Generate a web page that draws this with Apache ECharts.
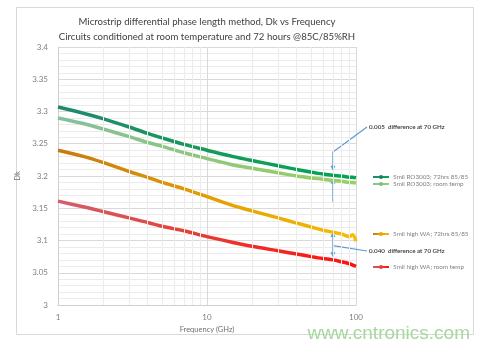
<!DOCTYPE html>
<html>
<head>
<meta charset="utf-8">
<script src="https://cdn.jsdelivr.net/npm/echarts@6/dist/echarts.min.js"></script>
<style>
  html, body { margin: 0; padding: 0; background: #fff; }
  #chart { width: 487px; height: 351px; }
</style>
</head>
<body>
<div id="chart"></div>
<script>
// frequency points (GHz) and Dk
const freqs = [1, 1.5, 2, 3, 4, 5, 7, 10, 15, 20, 30, 40, 50, 60, 70, 80, 90, 95, 100];
const ro3003Aged = [3.307, 3.297, 3.289, 3.276, 3.266, 3.259, 3.249, 3.240, 3.230, 3.224, 3.216, 3.210, 3.206, 3.203, 3.201, 3.200, 3.198, 3.198, 3.197];
const ro3003Room = [3.290, 3.281, 3.273, 3.261, 3.252, 3.246, 3.236, 3.227, 3.217, 3.212, 3.205, 3.200, 3.197, 3.195, 3.193, 3.192, 3.190, 3.190, 3.189];
const highWaAged = [3.240, 3.230, 3.221, 3.207, 3.198, 3.190, 3.180, 3.168, 3.154, 3.146, 3.135, 3.127, 3.121, 3.116, 3.113, 3.110, 3.106, 3.109, 3.099];
const highWaRoom = [3.161, 3.152, 3.145, 3.135, 3.128, 3.122, 3.115, 3.106, 3.097, 3.091, 3.084, 3.079, 3.075, 3.072, 3.070, 3.067, 3.064, 3.062, 3.060];
const seriesNames = [
    '5mil RO3003; 72hrs 85/85',
    '5mil RO3003; room temp',
    '5mil high WA; 72hrs 85/85',
    '5mil high WA; room temp'
];
const minorFreqs = [2, 3, 4, 5, 6, 7, 8, 9, 20, 30, 40, 50, 60, 70, 80, 90];

const FONT = 'Lato, "Open Sans", sans-serif';

function pairs(vals) {
    return freqs.map((f, i) => [f, vals[i]]);
}

function grad(stops) {
    return new echarts.graphic.LinearGradient(0, 0, 1, 0,
        stops.map((c, i) => ({ offset: i / (stops.length - 1), color: c })));
}

function dataSeries(name, vals, solid, stops) {
    return {
        name: name,
        type: 'line',
        data: pairs(vals),
        showSymbol: false,
        symbol: 'circle',
        symbolSize: 4,
        smooth: 0.3,
        z: 3,
        itemStyle: { color: solid },
        lineStyle: { width: 3.5, color: grad(stops) }
    };
}

const legendTops = [174, 181, 231, 264];
const legendColors = ['#15845c', '#7cc07a', '#e8a800', '#e0404a'];

const chart = echarts.init(document.getElementById('chart'));

const option = {
    animation: false,
    backgroundColor: '#fff',
    textStyle: { fontFamily: FONT },
    grid: { left: 58, right: 131, top: 47, bottom: 46 },
    legend: seriesNames.map((n, i) => ({
        data: [n],
        left: 372,
        top: legendTops[i],
        itemWidth: 16,
        itemHeight: 5,
        itemGap: 4,
        padding: 0,
        textStyle: { fontSize: 6.3, color: '#7f7f7f', fontFamily: FONT, padding: [0, 0, 0, -1] },
        selectedMode: false
    })),
    xAxis: {
        type: 'log',
        logBase: 10,
        min: 1,
        max: 100,
        name: 'Frequency (GHz)',
        nameLocation: 'middle',
        nameGap: 20,
        nameTextStyle: { fontSize: 7.5, color: '#6f6f6f' },
        axisLine: { show: true, lineStyle: { color: '#d0d0d0' } },
        axisTick: { show: false },
        axisLabel: { fontSize: 8, color: '#7f7f7f', margin: 8 },
        splitLine: { show: true, lineStyle: { color: '#d9d9d9' } }
    },
    yAxis: {
        type: 'value',
        min: 3,
        max: 3.4,
        interval: 0.05,
        name: 'Dk',
        nameLocation: 'middle',
        nameGap: 27,
        nameTextStyle: { fontSize: 7.5, color: '#6f6f6f' },
        axisLine: { show: true, lineStyle: { color: '#d0d0d0' } },
        axisTick: { show: false },
        axisLabel: { fontSize: 8, color: '#7f7f7f', margin: 10 },
        splitLine: { show: true, lineStyle: { color: '#d9d9d9' } },
        minorTick: { show: false, splitNumber: 5 },
        minorSplitLine: { show: true, lineStyle: { color: '#ebebeb' } }
    },
    series: [
        {
            name: 'minor grid',
            type: 'line',
            data: [],
            z: 1,
            silent: true,
            markLine: {
                silent: true,
                symbol: 'none',
                label: { show: false },
                lineStyle: { color: '#ececec', type: 'solid', width: 1 },
                data: minorFreqs.map(f => ({ xAxis: f }))
            }
        },
        dataSeries(seriesNames[0], ro3003Aged, legendColors[0], ['#23876d', '#169a5c', '#00a651']),
        dataSeries(seriesNames[1], ro3003Room, legendColors[1], ['#84bfa0', '#8fc878', '#98d060']),
        dataSeries(seriesNames[2], highWaAged, legendColors[2], ['#c47a10', '#e39e00', '#f5bf00']),
        dataSeries(seriesNames[3], highWaRoom, legendColors[3], ['#d2606e', '#e83a30', '#ff1010'])
    ]
};

chart.setOption(option);

// annotations (arrows at 70 GHz), placed through the axes
const ARROW = '#5b9bd5';
const px = (f, v) => chart.convertToPixel({ gridIndex: 0 }, [f, v]);

function head(tip, dir) {
    // dir: +1 pointing down, -1 pointing up
    const [x, y] = tip;
    return {
        type: 'polygon',
        shape: { points: [[x, y], [x - 2.5, y - dir * 5], [x + 2.5, y - dir * 5]] },
        style: { fill: ARROW }
    };
}

const topText = [369, 127];
const topBend = px(70, 3.237);
const topTip = px(70, 3.208);
const midTail = px(70, 3.160);
const midTip = px(70, 3.196);
const lowTop = px(70, 3.113);
const lowBot = px(70, 3.074);
const lowJoin = px(70, 3.092);
const lowText = [369, 251];

chart.setOption({
    graphic: [
        {
            type: 'rect', silent: true, z: -10,
            shape: { x: 16.5, y: 7.5, width: 457, height: 327 },
            style: { fill: 'none', stroke: '#d9d9d9', lineWidth: 1 }
        },
        {
            type: 'text', x: 207, y: 22,
            style: {
                text: 'Microstrip differential phase length method, Dk vs Frequency',
                fill: '#404040', font: '9.6px ' + FONT, align: 'center', verticalAlign: 'middle'
            }
        },
        {
            type: 'text', x: 207, y: 37,
            style: {
                text: 'Circuits conditioned at room temperature and 72 hours @85C/85%RH',
                fill: '#404040', font: '9.6px ' + FONT, align: 'center', verticalAlign: 'middle'
            }
        },
        {
            type: 'polyline',
            shape: { points: [[topText[0] - 2, topText[1]], topBend, [topTip[0], topTip[1] - 4]] },
            style: { stroke: ARROW, lineWidth: 1.2, fill: null }
        },
        head(topTip, 1),
        {
            type: 'line',
            shape: { x1: midTail[0], y1: midTail[1], x2: midTip[0], y2: midTip[1] + 4 },
            style: { stroke: ARROW, lineWidth: 1.2 }
        },
        head(midTip, -1),
        {
            type: 'line',
            shape: { x1: lowTop[0], y1: lowTop[1] + 4, x2: lowBot[0], y2: lowBot[1] - 4 },
            style: { stroke: ARROW, lineWidth: 1.2 }
        },
        head(lowTop, -1),
        head(lowBot, 1),
        {
            type: 'line',
            shape: { x1: lowJoin[0], y1: lowJoin[1], x2: lowText[0] - 2, y2: lowText[1] },
            style: { stroke: ARROW, lineWidth: 1.2 }
        },
        {
            type: 'text', x: topText[0], y: topText[1],
            style: {
                text: '0.005  difference at 70 GHz', fill: '#303030',
                font: '600 6.2px ' + FONT, verticalAlign: 'middle'
            }
        },
        {
            type: 'text', x: lowText[0], y: lowText[1],
            style: {
                text: '0.040  difference at 70 GHz', fill: '#303030',
                font: '600 6.2px ' + FONT, verticalAlign: 'middle'
            }
        },
        {
            type: 'text', x: 470, y: 334, silent: true,
            style: {
                text: 'www.cntronics.com', fill: '#a6d89e',
                font: '19px "Liberation Sans", Arial, sans-serif', align: 'right', verticalAlign: 'middle'
            }
        }
    ]
});

window.addEventListener('resize', function () {
    chart.resize();
});
</script>
</body>
</html>
